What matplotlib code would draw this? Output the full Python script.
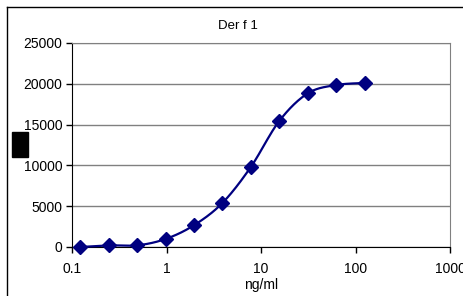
import numpy as np
import matplotlib
matplotlib.use("Agg")
import matplotlib.pyplot as plt
from matplotlib.lines import Line2D
from matplotlib.patches import Rectangle

conc = [0.122, 0.244, 0.488, 0.977, 1.95, 3.9, 7.8, 15.6, 31.25, 62.5, 125]
signal = [0, 200, 200, 980, 2660, 5390, 9800, 15440, 18830, 19850, 20100]
xticks = [0.1, 1, 10, 100, 1000]
xticklabels = ["0.1", "1", "10", "100", "1000"]
yticks = [0, 5000, 10000, 15000, 20000, 25000]
title = "Der f 1"
xlabel = "ng/ml"

plt.rcParams['font.family'] = ['Liberation Sans', 'DejaVu Sans']

W, H = 463, 296
fig = plt.figure(figsize=(W/100, H/100), dpi=100)
ax = fig.add_axes([72/W, 1-247/H, (450-72)/W, (247-43)/H])

# Catmull-Rom smoothing in log-x space
lx = np.log10(conc)
sy = np.array(signal, float)
xs_all, ys_all = [], []
P = np.column_stack([lx, sy])
n = len(P)
for i in range(n-1):
    p0 = P[i-1] if i > 0 else P[i]
    p1 = P[i]; p2 = P[i+1]
    p3 = P[i+2] if i+2 < n else P[i+1]
    t = np.linspace(0, 1, 30)[:, None]
    c = 0.5*((2*p1) + (-p0+p2)*t + (2*p0-5*p1+4*p2-p3)*t**2 + (-p0+3*p1-3*p2+p3)*t**3)
    xs_all.append(c[:, 0]); ys_all.append(c[:, 1])
xs = 10**np.concatenate(xs_all); ys = np.concatenate(ys_all)

ax.plot(xs, ys, color='#000080', lw=1.6, zorder=3, clip_on=False)
ax.plot(conc, signal, linestyle='none', marker='D', markersize=7,
        color='#000080', zorder=4, clip_on=False)

ax.set_xscale('log')
ax.set_xlim(0.1, 1000)
ax.set_ylim(0, 25000)
ax.set_xticks(xticks)
ax.set_xticklabels(xticklabels)
ax.xaxis.set_minor_locator(matplotlib.ticker.NullLocator())
ax.set_yticks(yticks)
ax.yaxis.grid(True, color='#808080', lw=1)
ax.set_axisbelow(True)
for s in ['top', 'right']:
    ax.spines[s].set_color('#808080')
for s in ['left', 'bottom']:
    ax.spines[s].set_color('black')
ax.tick_params(axis='both', direction='out', length=4, width=1, labelsize=10)
ax.tick_params(axis='x', pad=7)
ax.tick_params(axis='y', pad=3)
ax.set_xlabel(xlabel, fontsize=10, labelpad=1)

fig.text(238/W, 1-26/H, title, ha='center', va='center', fontsize=9.5)

# chart area border (partially visible)
fig.add_artist(Line2D([7/W, 7/W], [0, 1-7/H], color='black', lw=1))
fig.add_artist(Line2D([7/W, 1], [1-7/H, 1-7/H], color='black', lw=1))
# black box
fig.add_artist(Rectangle((12/W, 1-157/H), 16/W, 25/H, color='black'))

fig.savefig('out.png', dpi=100)
